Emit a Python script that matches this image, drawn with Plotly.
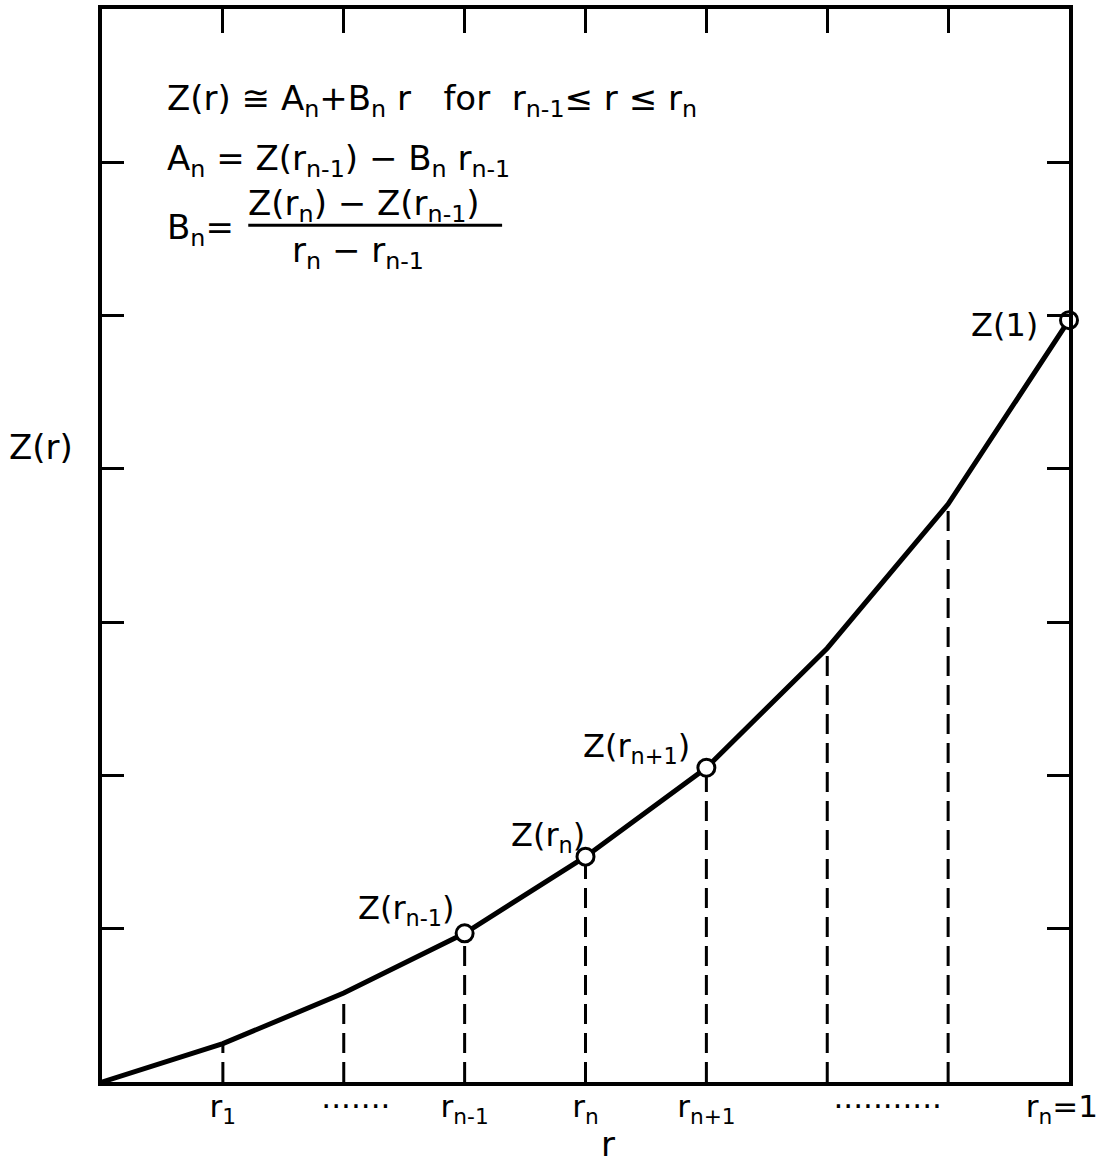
import plotly.graph_objects as go

# Piecewise-linear approximation of Z(r) on an equally spaced grid of r
r_nodes = [0, 1, 2, 3, 4, 5, 6, 7, 8]
z_nodes = [0, 0.25, 0.58, 0.97, 1.47, 2.05, 2.83, 3.77, 4.97]

# Nodes drawn as open circles: r_{n-1}, r_n, r_{n+1} and r = 1
circle_idx = [3, 4, 5, 8]

# Bottom axis labels
label_pos = [1, 2.1, 3, 4, 5, 6.5, 7.94]
label_text = ["r<sub>1</sub>", "·······", "r<sub>n-1</sub>", "r<sub>n</sub>",
              "r<sub>n+1</sub>", "···········", "r<sub>n</sub>=1"]

# Frame ticks
top_ticks = [1, 2, 3, 4, 5, 6, 7]
side_ticks = [1, 2, 3, 4, 5, 6]

X_RANGE = [0, 8]
Y_RANGE = [0, 7]

FONT = "DejaVu Sans"
INK = "black"

fig = go.Figure()

# Dashed verticals from each interior node down to the r axis
for r, z in zip(r_nodes[1:-1], z_nodes[1:-1]):
    fig.add_trace(go.Scatter(
        x=[r, r], y=[0, z], mode="lines",
        line=dict(color=INK, width=3, dash="20px,9px"),
        hoverinfo="skip", showlegend=False,
    ))

# The approximating polyline
fig.add_trace(go.Scatter(
    x=r_nodes, y=z_nodes, mode="lines",
    line=dict(color=INK, width=5),
    hoverinfo="skip", showlegend=False,
))

# Open circles on the highlighted nodes
fig.add_trace(go.Scatter(
    x=[r_nodes[i] for i in circle_idx],
    y=[z_nodes[i] for i in circle_idx],
    mode="markers", cliponaxis=False,
    marker=dict(symbol="circle", size=17, color="white",
                line=dict(color=INK, width=3)),
    hoverinfo="skip", showlegend=False,
))

# Invisible trace carrying the top tick axis
fig.add_trace(go.Scatter(
    x=[X_RANGE[0]], y=[Y_RANGE[0]], xaxis="x2", mode="markers",
    marker=dict(opacity=0), hoverinfo="skip", showlegend=False,
))

# Node labels (text centre in data units)
node_labels = [
    ("Z(r<sub>n-1</sub>)", 2.52, 1.12),
    ("Z(r<sub>n</sub>)", 3.69, 1.6),
    ("Z(r<sub>n+1</sub>)", 4.42, 2.18),
    ("Z(1)", 7.47, 4.94),
]
for text, lx, ly in node_labels:
    fig.add_annotation(
        x=lx, y=ly, text=text,
        showarrow=False, xanchor="center", yanchor="middle",
        font=dict(family=FONT, size=32, color=INK),
    )

# Formula block
formula_font = dict(family=FONT, size=34, color=INK)
fig.add_annotation(
    x=0.52, y=6.4, xanchor="left", yanchor="middle", showarrow=False,
    text="Z(r) ≅ A<sub>n</sub>+B<sub>n</sub> r\u00a0\u00a0\u00a0for\u00a0\u00a0r<sub>n-1</sub>≤ r ≤ r<sub>n</sub>",
    font=formula_font,
)
fig.add_annotation(
    x=0.52, y=6.01, xanchor="left", yanchor="middle", showarrow=False,
    text="A<sub>n</sub> = Z(r<sub>n-1</sub>) − B<sub>n</sub> r<sub>n-1</sub>",
    font=formula_font,
)
fig.add_annotation(
    x=0.52, y=5.56, xanchor="left", yanchor="middle", showarrow=False,
    text="B<sub>n</sub>=", font=formula_font,
)
fig.add_annotation(
    x=2.17, y=5.72, xanchor="center", yanchor="middle", showarrow=False,
    text="Z(r<sub>n</sub>) − Z(r<sub>n-1</sub>)", font=formula_font,
)
fig.add_annotation(
    x=2.12, y=5.41, xanchor="center", yanchor="middle", showarrow=False,
    text="r<sub>n</sub> − r<sub>n-1</sub>", font=formula_font,
)
fig.add_shape(
    type="line", x0=1.21, x1=3.31, y0=5.59, y1=5.59,
    line=dict(color=INK, width=3),
)

# Axis titles
fig.add_annotation(
    xref="paper", yref="paper", x=-0.063, y=0.592, xanchor="center",
    yanchor="middle", showarrow=False, text="Z(r)",
    font=dict(family=FONT, size=34, color=INK),
)
fig.add_annotation(
    xref="paper", yref="paper", x=0.523, y=-0.058, xanchor="center",
    yanchor="middle", showarrow=False, text="r",
    font=dict(family=FONT, size=34, color=INK),
)

fig.update_layout(
    width=1104, height=1170,
    margin=dict(l=102, r=35, t=9, b=88),
    paper_bgcolor="white", plot_bgcolor="white",
    showlegend=False,
    xaxis=dict(
        range=X_RANGE, showgrid=False, zeroline=False,
        showline=True, linecolor=INK, linewidth=4, mirror=True,
        ticks="", tickvals=label_pos, ticktext=label_text,
        tickfont=dict(family=FONT, size=31, color=INK),
        ticklabeloverflow="allow", ticklabelstandoff=-6,
        automargin=False,
    ),
    xaxis2=dict(
        range=X_RANGE, overlaying="x", side="top", anchor="y",
        showgrid=False, zeroline=False, showline=False,
        ticks="inside", ticklen=24, tickwidth=3, tickcolor=INK,
        tickvals=top_ticks, showticklabels=False, automargin=False,
    ),
    yaxis=dict(
        range=Y_RANGE, showgrid=False, zeroline=False,
        showline=True, linecolor=INK, linewidth=4, mirror="ticks",
        ticks="inside", ticklen=22, tickwidth=3, tickcolor=INK,
        tickvals=side_ticks, showticklabels=False, automargin=False,
    ),
)

fig.write_html("out.html")
